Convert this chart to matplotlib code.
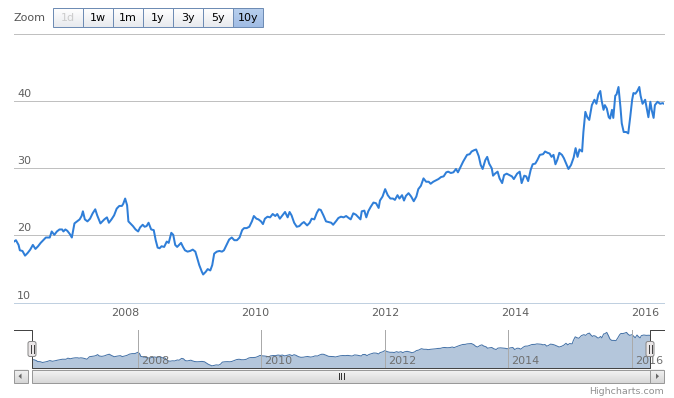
import numpy as np
import matplotlib
matplotlib.use("Agg")
import matplotlib.pyplot as plt
from matplotlib.patches import Rectangle, FancyBboxPatch, Polygon
from matplotlib.colors import LinearSegmentedColormap

# price series (decimal year, value)
years = [
    2006.29, 2006.32, 2006.36, 2006.38, 2006.42, 2006.46, 2006.50, 2006.54, 2006.58, 2006.62,
    2006.66, 2006.70, 2006.74, 2006.78, 2006.84, 2006.87, 2006.91, 2006.95, 2006.99, 2007.03,
    2007.05, 2007.08, 2007.11, 2007.15, 2007.18, 2007.22, 2007.26, 2007.30, 2007.33, 2007.35,
    2007.38, 2007.42, 2007.46, 2007.50, 2007.54, 2007.57, 2007.62, 2007.65, 2007.68, 2007.72,
    2007.75, 2007.79, 2007.83, 2007.87, 2007.91, 2007.95, 2007.97, 2008.00, 2008.03, 2008.05,
    2008.08, 2008.12, 2008.16, 2008.20, 2008.23, 2008.27, 2008.30, 2008.33, 2008.36, 2008.40,
    2008.44, 2008.47, 2008.50, 2008.53, 2008.56, 2008.60, 2008.64, 2008.67, 2008.71, 2008.74,
    2008.77, 2008.80, 2008.86, 2008.89, 2008.92, 2008.96, 2009.00, 2009.04, 2009.08, 2009.11,
    2009.14, 2009.18, 2009.20, 2009.24, 2009.27, 2009.31, 2009.34, 2009.37, 2009.41, 2009.45,
    2009.49, 2009.52, 2009.56, 2009.60, 2009.64, 2009.68, 2009.72, 2009.76, 2009.80, 2009.83,
    2009.87, 2009.91, 2009.95, 2009.98, 2010.02, 2010.05, 2010.09, 2010.12, 2010.15, 2010.19,
    2010.23, 2010.27, 2010.31, 2010.34, 2010.38, 2010.42, 2010.46, 2010.50, 2010.53, 2010.56,
    2010.60, 2010.64, 2010.68, 2010.72, 2010.75, 2010.80, 2010.84, 2010.87, 2010.91, 2010.95,
    2010.98, 2011.01, 2011.05, 2011.09, 2011.13, 2011.17, 2011.20, 2011.25, 2011.28, 2011.32,
    2011.36, 2011.40, 2011.44, 2011.47, 2011.51, 2011.55, 2011.59, 2011.62, 2011.64, 2011.68,
    2011.71, 2011.74, 2011.78, 2011.82, 2011.86, 2011.90, 2011.92, 2011.96, 2012.00, 2012.04,
    2012.08, 2012.12, 2012.15, 2012.19, 2012.22, 2012.26, 2012.29, 2012.32, 2012.36, 2012.40,
    2012.44, 2012.48, 2012.51, 2012.55, 2012.59, 2012.63, 2012.67, 2012.70, 2012.74, 2012.78,
    2012.82, 2012.86, 2012.90, 2012.94, 2012.97, 2013.01, 2013.05, 2013.09, 2013.12, 2013.15,
    2013.20, 2013.23, 2013.26, 2013.30, 2013.33, 2013.37, 2013.40, 2013.44, 2013.47, 2013.50,
    2013.54, 2013.57, 2013.60, 2013.64, 2013.66, 2013.69, 2013.73, 2013.76, 2013.80, 2013.83,
    2013.87, 2013.91, 2013.95, 2013.98, 2014.03, 2014.07, 2014.10, 2014.14, 2014.17, 2014.20,
    2014.24, 2014.27, 2014.31, 2014.34, 2014.38, 2014.43, 2014.46, 2014.50, 2014.53, 2014.56,
    2014.59, 2014.62, 2014.65, 2014.68, 2014.72, 2014.75, 2014.78, 2014.82, 2014.86, 2014.90,
    2014.93, 2014.96, 2014.99, 2015.03, 2015.05, 2015.08, 2015.11, 2015.14, 2015.18, 2015.22,
    2015.25, 2015.28, 2015.31, 2015.33, 2015.36, 2015.38, 2015.41, 2015.44, 2015.46, 2015.49,
    2015.51, 2015.54, 2015.56, 2015.59, 2015.62, 2015.64, 2015.67, 2015.71, 2015.74, 2015.77,
    2015.80, 2015.82, 2015.85, 2015.88, 2015.91, 2015.93, 2015.96, 2016.00, 2016.03, 2016.05,
    2016.08, 2016.10, 2016.13, 2016.15, 2016.19, 2016.23, 2016.27, 2016.29,
]
values = [
    19.1, 19.3, 18.6, 17.8, 17.7, 17.0, 17.4, 17.9, 18.6, 18.0,
    18.4, 18.9, 19.3, 19.7, 19.7, 20.6, 20.1, 20.6, 20.9, 20.9,
    20.6, 20.9, 20.7, 20.2, 19.7, 21.8, 22.1, 22.4, 22.9, 23.6,
    22.4, 22.1, 22.5, 23.3, 23.9, 23.0, 21.8, 22.1, 22.4, 22.7,
    21.9, 22.4, 23.0, 24.0, 24.4, 24.4, 24.7, 25.5, 24.5, 22.1,
    21.8, 21.4, 20.9, 20.6, 21.2, 21.6, 21.3, 21.4, 21.9, 20.9,
    20.8, 19.3, 18.2, 18.1, 18.4, 18.3, 19.1, 18.9, 20.4, 20.1,
    18.6, 18.3, 18.9, 18.3, 17.8, 17.6, 17.7, 17.9, 17.6, 16.6,
    15.6, 14.6, 14.2, 14.6, 15.0, 14.8, 15.6, 17.3, 17.6, 17.7,
    17.6, 17.8, 18.6, 19.4, 19.7, 19.3, 19.3, 19.7, 20.8, 21.1,
    21.1, 21.3, 22.1, 22.9, 22.5, 22.4, 22.1, 21.7, 22.5, 22.8,
    22.7, 23.2, 22.9, 23.2, 22.5, 23.0, 23.5, 22.7, 23.5, 23.0,
    21.9, 21.3, 21.4, 21.8, 22.0, 21.5, 21.9, 22.5, 22.4, 23.4,
    23.9, 23.8, 23.0, 22.1, 22.0, 21.9, 21.6, 22.2, 22.6, 22.8,
    22.7, 22.9, 22.6, 22.4, 23.3, 23.1, 22.7, 22.4, 23.6, 23.7,
    22.7, 23.6, 24.3, 24.9, 24.8, 24.1, 25.2, 25.8, 26.9, 26.0,
    25.5, 25.5, 25.3, 26.0, 25.5, 26.0, 25.2, 25.9, 26.3, 25.8,
    25.1, 25.8, 26.9, 27.4, 28.5, 28.0, 28.0, 27.7, 28.0, 28.2,
    28.4, 28.7, 28.8, 29.4, 29.5, 29.3, 29.4, 29.9, 29.4, 30.0,
    31.0, 31.5, 32.0, 32.1, 32.5, 32.7, 32.8, 31.8, 30.5, 29.9,
    31.2, 31.7, 30.7, 30.0, 28.9, 29.2, 29.5, 28.5, 27.8, 29.0,
    29.2, 29.0, 28.8, 28.4, 29.2, 29.5, 27.8, 28.9, 28.8, 28.1,
    29.8, 30.6, 30.7, 31.2, 32.0, 32.1, 32.5, 32.3, 32.2, 31.7,
    32.0, 30.6, 31.3, 32.3, 32.0, 31.5, 30.8, 29.9, 30.5, 31.6,
    33.0, 31.7, 32.8, 32.5, 35.4, 38.4, 37.6, 37.2, 39.4, 40.2,
    39.6, 41.0, 41.5, 40.1, 38.7, 39.4, 38.9, 37.6, 37.4, 38.7,
    37.5, 40.8, 41.0, 42.1, 39.1, 36.7, 35.4, 35.4, 35.2, 37.6,
    40.2, 41.2, 41.1, 41.5, 42.1, 40.8, 39.6, 40.2, 38.6, 37.6,
    39.9, 38.7, 37.5, 39.4, 39.9, 39.6, 39.7, 39.6,
]
assert len(years) == len(values)

y_ticks = [10, 20, 30, 40]
x_ticks = [2008, 2010, 2012, 2014, 2016]
zoom_buttons = ["1d", "1w", "1m", "1y", "3y", "5y", "10y"]

W, H = 674, 398
PX = 72 / 100  # one pixel in points

fig = plt.figure(figsize=(W / 100, H / 100), dpi=100)


def rect(x0, y0, x1, y1):
    # pixel box (top-left origin) -> figure fraction
    return [x0 / W, 1 - y1 / H, (x1 - x0) / W, (y1 - y0) / H]


# main chart
ax = fig.add_axes(rect(14, 33.9, 664, 302.7))
ax.plot(years, values, color="#2f7ed8", lw=2 * PX, solid_joinstyle="round")
ax.set_xlim(2006.29, 2016.29)
ax.set_ylim(10, 50)
for v in [20, 30, 40, 50]:
    ax.axhline(v, color="#c0c0c0", lw=PX, clip_on=False, zorder=0)
for s in ["top", "left", "right"]:
    ax.spines[s].set_visible(False)
ax.spines["bottom"].set_color("#c0d0e0")
ax.spines["bottom"].set_linewidth(PX)
ax.set_yticks([])
ax.set_xticks(x_ticks)
ax.set_xticklabels([str(t) for t in x_ticks])
ax.tick_params(axis="x", length=0, pad=3.6, labelsize=8, labelcolor="#606060")
for v in y_ticks:
    ax.annotate(str(v), xy=(0, v), xycoords=("axes fraction", "data"),
                xytext=(3 * PX, 2 * PX), textcoords="offset points",
                ha="left", va="bottom", fontsize=8, color="#606060")

# navigator
nav = fig.add_axes(rect(32, 329.5, 650, 368))
nav.fill_between(years, values, 12.4, color="#4572a7", alpha=0.4, lw=0)
nav.plot(years, values, color="#4572a7", lw=PX)
nav.set_xlim(2006.29, 2016.29)
nav.set_ylim(12.4, 44.5)
nav.axis("off")
for t in x_ticks:
    nav.axvline(t, color="#aaaaaa", lw=PX)
    nav.annotate(str(t), xy=(t, 0), xycoords=("data", "axes fraction"),
                 xytext=(3 * PX, 2 * PX), textcoords="offset points",
                 ha="left", va="bottom", fontsize=8, color="#6f6f6f")

# overlay in pixel coordinates for the widgets
ov = fig.add_axes([0, 0, 1, 1], zorder=10)
ov.patch.set_alpha(0)
ov.axis("off")


def grad_box(x0, y0, x1, y1, top, bottom, edge):
    cmap = LinearSegmentedColormap.from_list("g", [top, bottom])
    ov.imshow(np.linspace(0, 1, 32).reshape(-1, 1), cmap=cmap, aspect="auto",
              extent=(x0, x1, y1, y0), zorder=2, interpolation="bilinear")
    ov.add_patch(Rectangle((x0, y0), x1 - x0, y1 - y0, fill=False, ec=edge,
                           lw=PX, zorder=3))


# range selector
ov.text(14, 18, "Zoom", ha="left", va="center", fontsize=8, color="#555555")
for i, lab in enumerate(zoom_buttons):
    bx = 52.7 + 30 * i
    if lab == "10y":
        grad_box(bx, 8.3, bx + 30, 26.7, "#b9d0ee", "#a0bce4", "#6e8cb4")
    else:
        grad_box(bx, 8.3, bx + 30, 26.7, "#ffffff", "#e8eaee", "#6e8cb4")
    col = "#cccccc" if lab == "1d" else "#000000"
    ov.text(bx + 15, 17.8, lab, ha="center", va="center", fontsize=8,
            color=col, zorder=4)

# scrollbar
ov.add_patch(Rectangle((14, 369.5), 650, 13.5, fc="#ffffff", ec="none", zorder=1))
grad_box(13.5, 369.5, 27.5, 383, "#f4f4f4", "#d6d6d6", "#999999")
grad_box(650, 369.5, 664, 383, "#f4f4f4", "#d6d6d6", "#999999")
grad_box(32, 369.5, 650, 383, "#f6f6f6", "#d8d8d8", "#999999")
ov.add_patch(Polygon([[18.5, 376.2], [21.5, 373.5], [21.5, 379]], closed=True,
                     fc="#666666", ec="none", zorder=4))
ov.add_patch(Polygon([[659, 376.2], [656, 373.5], [656, 379]], closed=True,
                     fc="#666666", ec="none", zorder=4))
for gx in [338.5, 341, 343.5]:
    ov.plot([gx, gx], [373, 379], color="#333333", lw=PX, zorder=4)

# navigator outline and handles
ov.plot([14, 32, 32, 650, 650, 664], [329.5, 329.5, 368, 368, 329.5, 329.5],
        color="#444444", lw=PX, zorder=5)
for hx in [32, 650]:
    ov.add_patch(FancyBboxPatch((hx - 4, 341.5), 8, 15, boxstyle="round,pad=0,rounding_size=2",
                                fc="#ebe7e8", ec="#888888", lw=PX, zorder=6))
    for gx in [hx - 1.5, hx + 1.5]:
        ov.plot([gx, gx], [345, 353], color="#444444", lw=PX, zorder=7)

ov.text(664, 391, "Highcharts.com", ha="right", va="center", fontsize=6.8,
        color="#909090")

ov.set_xlim(0, W)
ov.set_ylim(H, 0)

fig.savefig("out.png", dpi=100)
